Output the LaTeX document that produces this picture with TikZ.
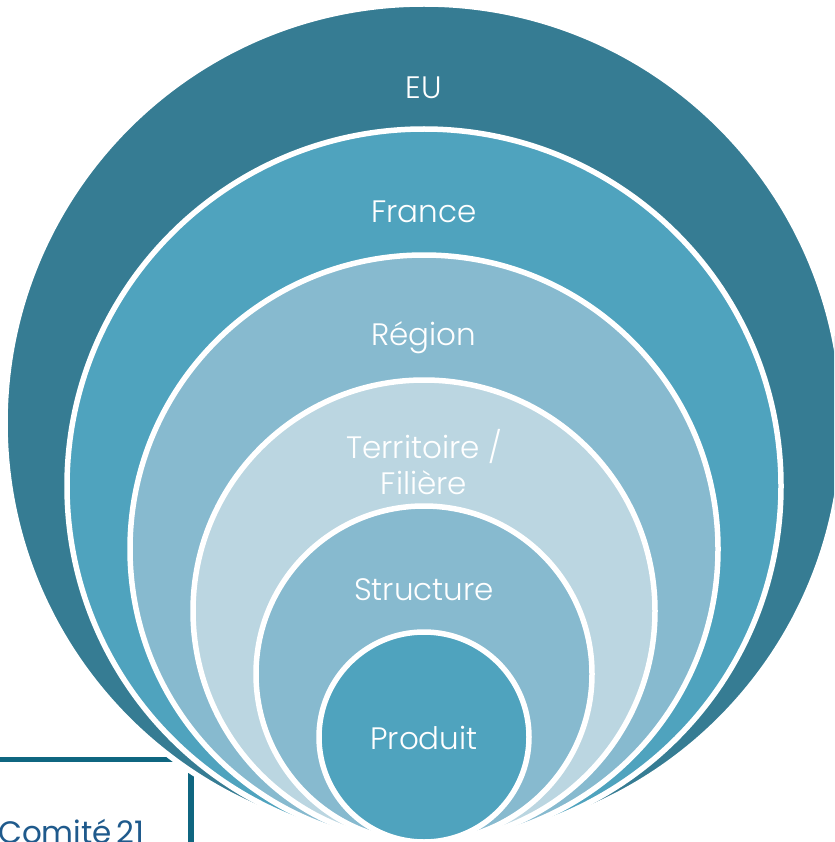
\documentclass[tikz,border=0pt]{standalone}
\usepackage{fontspec}
\setmainfont{Poppins Light}
\newfontfamily\logofont[WordSpace=0.6]{Poppins}
\definecolor{euteal}{HTML}{367C93}
\definecolor{midblue}{HTML}{4FA3BE}
\definecolor{softblue}{HTML}{87BACF}
\definecolor{paleblue}{HTML}{BBD6E1}
\definecolor{logoblue}{HTML}{0F6680}
\definecolor{logotext}{HTML}{1F5A8C}
\tikzset{
  ring/.style={circle,draw=white,line width=5.5pt,inner sep=0pt},
  ringlabel/.style={text=white,font=\fontsize{31}{36}\selectfont,align=center}
}
\begin{document}
\begin{tikzpicture}[x=1pt,y=-1pt]
      \useasboundingbox (0,0) rectangle (834,842);
      \clip (0,0) rectangle (834,842);

      \coordinate (framea) at (0,759.5);
      \coordinate (frameb) at (191,759.5);
      \coordinate (framec) at (191,842);
      \draw[logoblue,line width=5.5pt] (framea) -- (frameb) -- (framec);
      \node[anchor=base west,inner sep=0pt,text=logotext,font=\logofont\fontsize{31}{32}\selectfont] (logo) at (-2,843) {Comité 21};

      \begin{scope}[every node/.style={ring}]
        \node[fill=euteal,minimum size=838pt]   (eu)   at (424,423) {};
        \node[fill=midblue,minimum size=714pt]  (fr)   at (424,486) {};
        \node[fill=softblue,minimum size=588pt] (reg)  at (424,549) {};
        \node[fill=paleblue,minimum size=462pt] (terr) at (424,611) {};
        \node[fill=softblue,minimum size=336pt] (str)  at (424,674) {};
        \node[fill=midblue,minimum size=210pt]  (prod) at (424,737) {};
      \end{scope}

      \begin{scope}[every node/.style={ringlabel}]
        \node (eulabel)   at (424,88)  {EU};
        \node (frlabel)   at (424,212) {France};
        \node (reglabel)  at (424,338) {Région};
        \node (terrlabel) at (424,462) {Territoire /\\Filière};
        \node (strlabel)  at (424,590) {Structure};
        \node (prodlabel) at (424,738) {Produit};
      \end{scope}

    \end{tikzpicture}
\end{document}
